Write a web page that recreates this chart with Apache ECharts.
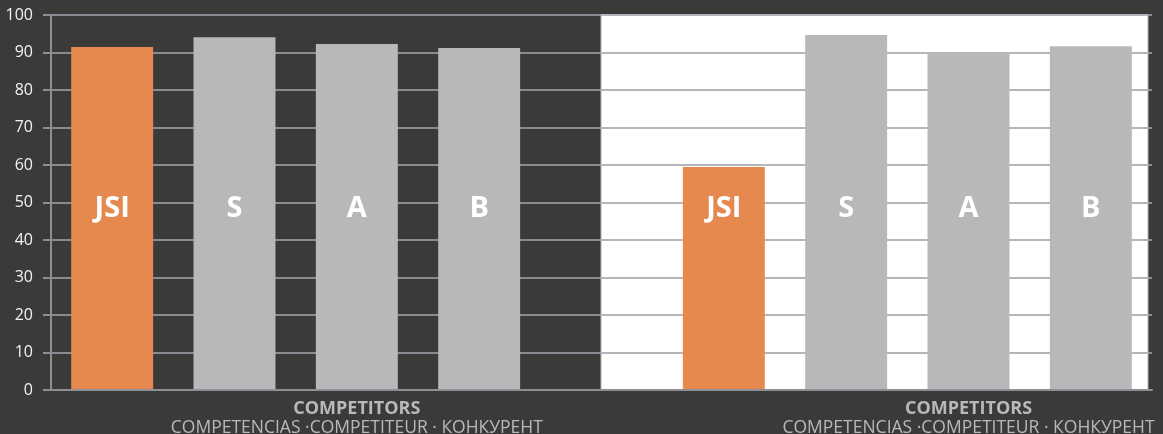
<!DOCTYPE html>
<html>
    <head>
        <meta charset="UTF-8" />
        <script src="https://cdn.jsdelivr.net/npm/echarts@6/dist/echarts.min.js"></script>
        <style>
            html, body { margin: 0; padding: 0; background: #3c3a39; }
        </style>
    </head>

    <body>
        <div id="main" style="width: 1163px; height: 434px"></div>
        <script type="text/javascript">
            // two panels share one category axis, the empty slot splits them
            var categories = ['JSI', 'S', 'A', 'B', '-', 'JSI ', 'S ', 'A ', 'B '];
            var barLabels = ['JSI', 'S', 'A', 'B', '', 'JSI', 'S', 'A', 'B'];
            var leftValues = [91.5, 94.1, 92.3, 91.2];
            var rightValues = [59.5, 94.7, 90.1, 91.7];
            var yTicks = { min: 0, max: 100, interval: 10 };
            var axisTitle = 'COMPETITORS';
            var axisSubtitle = 'COMPETENCIAS ·COMPETITEUR · КОНКУРЕНТ';
            var titleSlots = [2, 7];

            var orange = '#e6894e';
            var grey = '#b9b7ba';

            var barData = [];
            leftValues.concat([null], rightValues).forEach(function (v, i) {
                if (v === null) {
                    barData.push('-');
                    return;
                }
                barData.push({
                    value: v,
                    itemStyle: { color: barLabels[i] === 'JSI' ? orange : grey }
                });
            });

            var chart = echarts.init(document.getElementById('main'));
            var option = {
                backgroundColor: '#3c3a39',
                animation: false,
                textStyle: { fontFamily: 'Open Sans' },
                grid: [
                    { left: 51, right: 11, top: 15, bottom: 44, outerBoundsMode: 'none' },
                    // white panel on the right
                    {
                        left: 601, right: 15, top: 15, bottom: 44, outerBoundsMode: 'none',
                        show: true, backgroundColor: '#ffffff',
                        borderColor: '#b5b6ba', borderWidth: 1, z: 1
                    }
                ],
                xAxis: [
                    {
                        type: 'category',
                        data: categories,
                        gridIndex: 0,
                        z: 3,
                        axisLine: { lineStyle: { color: '#8e8e95', width: 2 } },
                        axisTick: { show: false },
                        axisLabel: {
                            interval: 0,
                            margin: 9,
                            formatter: function (val, idx) {
                                if (titleSlots.indexOf(idx) < 0) return '';
                                return '{t|' + axisTitle + '}\n{s|' + axisSubtitle + '}';
                            },
                            rich: {
                                t: { fontSize: 18, fontWeight: 'bold', color: '#b9b8bb', lineHeight: 20, fontFamily: 'Open Sans' },
                                s: { fontSize: 17.5, color: '#b9b8bb', lineHeight: 19, fontFamily: 'Open Sans' }
                            }
                        }
                    },
                    { type: 'value', gridIndex: 1, show: false }
                ],
                yAxis: [
                    {
                        type: 'value',
                        gridIndex: 0,
                        min: yTicks.min,
                        max: yTicks.max,
                        interval: yTicks.interval,
                        axisLine: { show: true, lineStyle: { color: '#8e8e95', width: 2 } },
                        axisTick: { show: true, length: 8, lineStyle: { color: '#8e8e95', width: 2 } },
                        axisLabel: { color: '#f2f2f2', fontSize: 16, margin: 18 },
                        splitLine: { lineStyle: { color: '#8a8a90', width: 2 } }
                    },
                    {
                        type: 'value',
                        gridIndex: 1,
                        min: yTicks.min,
                        max: yTicks.max,
                        interval: yTicks.interval,
                        z: 1,
                        axisLine: { show: false },
                        axisTick: { show: false },
                        axisLabel: { show: false },
                        splitLine: { lineStyle: { color: '#b4b6bb', width: 2 } }
                    }
                ],
                series: [
                    {
                        type: 'bar',
                        xAxisIndex: 0,
                        yAxisIndex: 0,
                        barCategoryGap: '33%',
                        z: 2,
                        data: barData,
                        label: {
                            show: true,
                            position: 'insideBottom',
                            distance: 167,
                            color: '#ffffff',
                            fontSize: 29,
                            fontWeight: 'bold',
                            fontFamily: 'Open Sans',
                            formatter: function (p) { return barLabels[p.dataIndex]; }
                        }
                    }
                ]
            };
            chart.setOption(option);
        </script>
    </body>
</html>
